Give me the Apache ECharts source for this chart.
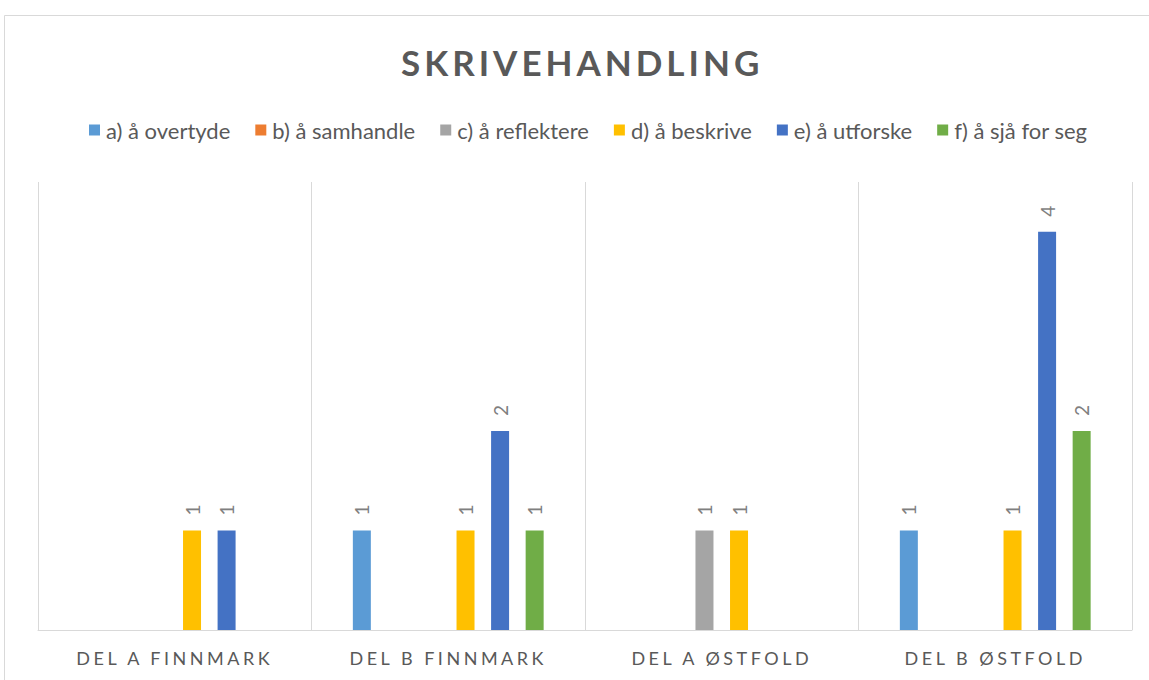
<!DOCTYPE html>
<html>
<head>
<meta charset="utf-8">
<script src="https://cdn.jsdelivr.net/npm/echarts@6/dist/echarts.min.js"></script>
<style>
  html, body { margin: 0; padding: 0; background: #fff; }
  #chart { width: 1149px; height: 680px; }
</style>
</head>
<body>
<div id="chart"></div>
<script>
// kategorier og verdier (tomme felt = ingen stolpe)
const titleText = 'SKRIVEHANDLING';
const categories = ['DEL A FINNMARK', 'DEL B FINNMARK', 'DEL A ØSTFOLD', 'DEL B ØSTFOLD'];
const seriesNames = ['a) å overtyde', 'b) å samhandle', 'c) å reflektere', 'd) å beskrive', 'e) å utforske', 'f) å sjå for seg'];
const overtyde = [null, 1, null, 1];
const samhandle = [null, null, null, null];
const reflektere = [null, null, 1, null];
const beskrive = [1, 1, 1, 1];
const utforske = [1, 2, null, 4];
const sjaForSeg = [null, 1, null, 2];
const colors = ['#5B9BD5', '#ED7D31', '#A5A5A5', '#FFC000', '#4472C4', '#70AD47'];

const allValues = [overtyde, samhandle, reflektere, beskrive, utforske, sjaForSeg];

const chart = echarts.init(document.getElementById('chart'), null, { renderer: 'svg' });

const option = {
    animation: false,
    color: colors,
    title: {
        text: titleText,
        left: 396,
        top: 39,
        textStyle: {
            fontFamily: 'Lato',
            fontWeight: 'bold',
            fontSize: 35,
            color: '#595959'
        }
    },
    legend: {
        data: seriesNames,
        left: 84,
        top: 114,
        itemWidth: 11,
        itemHeight: 11,
        itemGap: 25,
        icon: 'rect',
        textStyle: {
            fontFamily: 'Lato',
            fontSize: 22,
            color: '#595959',
            padding: [0, 0, 0, 1]
        }
    },
    graphic: [{
        type: 'rect',
        silent: true,
        shape: { x: 4.5, y: 15.5, width: 1200, height: 700 },
        style: { fill: 'none', stroke: '#d9d9d9', lineWidth: 1 }
    }],
    grid: {
        left: 38,
        right: 17,
        top: 182,
        bottom: 50,
        containLabel: false
    },
    xAxis: {
        type: 'category',
        data: categories,
        axisTick: { show: false },
        axisLine: { lineStyle: { color: '#d9d9d9', width: 1 } },
        splitLine: { show: true, lineStyle: { color: '#d9d9d9', width: 1 } },
        axisLabel: {
            margin: 19,
            fontFamily: 'Lato',
            fontSize: 18,
            color: '#595959'
        }
    },
    yAxis: {
        type: 'value',
        min: 0,
        max: 4.5,
        show: false,
        splitLine: { show: false }
    },
    series: seriesNames.map((name, i) => ({
        name: name,
        type: 'bar',
        data: allValues[i],
        barWidth: 18,
        barGap: '92%',
        barCategoryGap: '30%',
        label: {
            show: true,
            position: 'top',
            rotate: 90,
            align: 'left',
            verticalAlign: 'middle',
            distance: 15,
            fontFamily: 'Lato',
            fontSize: 19,
            color: '#7f7f7f'
        }
    }))
};

chart.setOption(option);

// sperring av bokstaver som i originalen
function spaceLetters() {
    document.querySelectorAll('#chart text').forEach(t => {
        const s = t.textContent;
        if (s === titleText) t.style.letterSpacing = '4px';
        else if (categories.includes(s)) t.style.letterSpacing = '3.5px';
    });
}
chart.on('finished', spaceLetters);
spaceLetters();
</script>
</body>
</html>
